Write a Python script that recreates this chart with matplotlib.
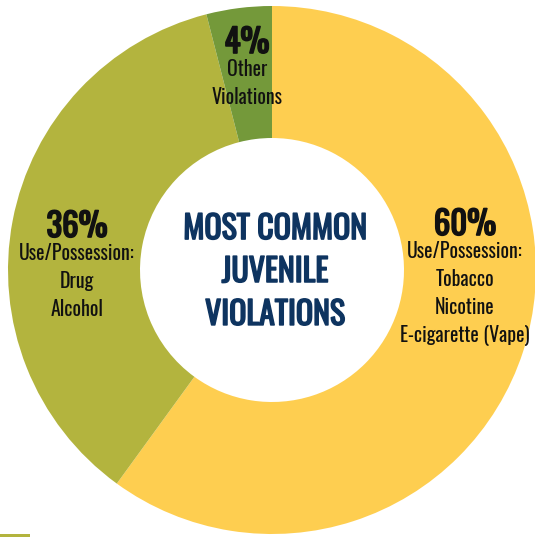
import matplotlib
matplotlib.use("Agg")
import matplotlib.pyplot as plt
import matplotlib.patheffects as pe
from matplotlib.patches import Rectangle

# =====================================================
# Data
# =====================================================

shares = [60, 36, 4]
pct_labels = ["60%", "36%", "4%"]
descriptions = [
    "Use/Possession:\nTobacco\nNicotine\nE-cigarette (Vape)",
    "Use/Possession:\nDrug\nAlcohol",
    "Other\nViolations",
]
colors = ["#FECE50", "#B3B43E", "#74993A"]
center_title = "MOST COMMON\nJUVENILE\nVIOLATIONS"

# =====================================================
# Figure (axes in pixel units, y up)
# =====================================================

W, H = 535, 537
fig = plt.figure(figsize=(W / 100, H / 100), dpi=100)
ax = fig.add_axes([0, 0, 1, 1])

cx, cy = 272, H - 270
r_out, r_in = 264, 132

ax.pie(
    shares,
    colors=colors,
    startangle=90,
    counterclock=False,
    radius=r_out,
    center=(cx, cy),
    wedgeprops=dict(width=r_out - r_in, edgecolor="none"),
)

ax.set_xlim(0, W)
ax.set_ylim(0, H)
ax.set_aspect("equal")
ax.set_axis_off()

font = dict(family=["Oswald", "DejaVu Sans"])


def heavy(color, lw=1.2):
    # Oswald here has only the regular weight, so thicken it with a stroke
    return [pe.withStroke(linewidth=lw, foreground=color)]


# percentage + description for each slice
label_pos = [(465, 225), (77, 227), (247, 43)]
for pct, desc, (x, y) in zip(pct_labels, descriptions, label_pos):
    ax.text(x, H - y, pct, ha="center", va="center",
            fontsize=23.5, color="#111111",
            path_effects=heavy("#111111", 1.2), **font)
    ax.text(x, H - y - 16, desc, ha="center", va="top",
            fontsize=14.3, color="#111111", linespacing=1.48, **font)

# centre title
ax.text(275, H - 272, center_title, ha="center", va="center",
        fontsize=23, color="#0E3460", linespacing=1.42,
        path_effects=heavy("#0E3460", 1.1), **font)

# small olive strip at the bottom-left corner
ax.add_patch(Rectangle((0, 0), 30, 3, color="#B3B43E", lw=0))

fig.savefig("out.png", dpi=100)
